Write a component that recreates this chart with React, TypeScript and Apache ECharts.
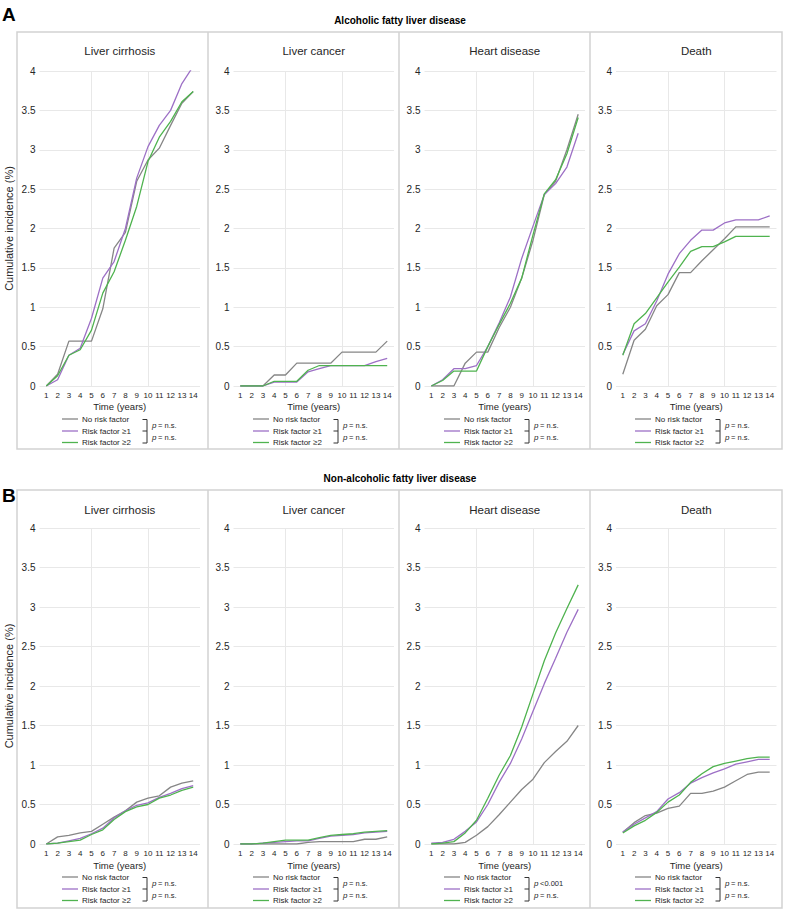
import React, { useEffect, useRef } from "react";
import * as echarts from "echarts";

// ---------- DATA ----------
const years = [1, 2, 3, 4, 5, 6, 7, 8, 9, 10, 11, 12, 13, 14];
const seriesNames = ["No risk factor", "Risk factor ≥1", "Risk factor ≥2"];
const panelTitles = ["Liver cirrhosis", "Liver cancer", "Heart disease", "Death"];
const blockTitles = ["Alcoholic fatty liver disease", "Non-alcoholic fatty liver disease"];
const blockLetters = ["A", "B"];
const yAxisTitle = "Cumulative incidence (%)";
const xAxisTitle = "Time (years)";

// A: Alcoholic fatty liver disease
const A_cirrhosis_none = [0, 0.15, 0.57, 0.57, 0.57, 0.98, 1.75, 1.95, 2.6, 2.87, 3.02, 3.31, 3.59, 3.74];
const A_cirrhosis_rf1 = [0, 0.08, 0.39, 0.48, 0.86, 1.37, 1.58, 2.0, 2.64, 3.04, 3.31, 3.5, 3.84, 4.06];
const A_cirrhosis_rf2 = [0, 0.13, 0.39, 0.46, 0.71, 1.18, 1.45, 1.85, 2.28, 2.85, 3.16, 3.36, 3.61, 3.74];

const A_cancer_none = [0, 0, 0, 0.14, 0.14, 0.29, 0.29, 0.29, 0.29, 0.43, 0.43, 0.43, 0.43, 0.57];
const A_cancer_rf1 = [0, 0, 0, 0.05, 0.05, 0.05, 0.18, 0.22, 0.26, 0.26, 0.26, 0.26, 0.31, 0.35];
const A_cancer_rf2 = [0, 0, 0, 0.06, 0.06, 0.06, 0.2, 0.26, 0.26, 0.26, 0.26, 0.26, 0.26, 0.26];

const A_heart_none = [0, 0, 0, 0.29, 0.43, 0.43, 0.74, 1.0, 1.37, 1.85, 2.43, 2.6, 3.0, 3.45];
const A_heart_rf1 = [0, 0.08, 0.22, 0.22, 0.26, 0.5, 0.8, 1.13, 1.62, 2.03, 2.43, 2.57, 2.78, 3.21];
const A_heart_rf2 = [0, 0.07, 0.19, 0.19, 0.19, 0.5, 0.78, 1.05, 1.37, 1.92, 2.44, 2.62, 2.95, 3.41];

const A_death_none = [0.15, 0.58, 0.72, 1.02, 1.16, 1.44, 1.44, 1.59, 1.73, 1.87, 2.02, 2.02, 2.02, 2.02];
const A_death_rf1 = [0.4, 0.7, 0.79, 1.08, 1.42, 1.68, 1.85, 1.98, 1.98, 2.07, 2.11, 2.11, 2.11, 2.16];
const A_death_rf2 = [0.39, 0.79, 0.92, 1.12, 1.32, 1.51, 1.71, 1.77, 1.77, 1.83, 1.9, 1.9, 1.9, 1.9];

// B: Non-alcoholic fatty liver disease
const B_cirrhosis_none = [0, 0.09, 0.11, 0.14, 0.16, 0.25, 0.34, 0.42, 0.53, 0.58, 0.61, 0.72, 0.77, 0.8];
const B_cirrhosis_rf1 = [0, 0.01, 0.04, 0.07, 0.13, 0.2, 0.33, 0.42, 0.49, 0.52, 0.59, 0.64, 0.7, 0.74];
const B_cirrhosis_rf2 = [0, 0.01, 0.03, 0.05, 0.12, 0.18, 0.31, 0.41, 0.47, 0.5, 0.58, 0.62, 0.68, 0.72];

const B_cancer_none = [0, 0, 0, 0, 0, 0, 0.02, 0.03, 0.03, 0.03, 0.03, 0.06, 0.06, 0.09];
const B_cancer_rf1 = [0, 0, 0.01, 0.02, 0.03, 0.04, 0.04, 0.07, 0.1, 0.11, 0.12, 0.14, 0.15, 0.16];
const B_cancer_rf2 = [0, 0, 0.01, 0.03, 0.05, 0.05, 0.05, 0.08, 0.11, 0.12, 0.13, 0.15, 0.16, 0.17];

const B_heart_none = [0, 0, 0, 0.02, 0.11, 0.22, 0.37, 0.53, 0.69, 0.82, 1.03, 1.17, 1.3, 1.5];
const B_heart_rf1 = [0.01, 0.02, 0.06, 0.16, 0.28, 0.5, 0.78, 1.02, 1.33, 1.68, 2.03, 2.35, 2.68, 2.97];
const B_heart_rf2 = [0, 0.01, 0.03, 0.14, 0.3, 0.58, 0.87, 1.12, 1.48, 1.9, 2.32, 2.67, 2.98, 3.28];

const B_death_none = [0.15, 0.27, 0.36, 0.39, 0.45, 0.48, 0.64, 0.64, 0.67, 0.72, 0.8, 0.88, 0.91, 0.91];
const B_death_rf1 = [0.15, 0.25, 0.33, 0.41, 0.57, 0.65, 0.77, 0.84, 0.9, 0.95, 1.01, 1.04, 1.07, 1.07];
const B_death_rf2 = [0.14, 0.23, 0.3, 0.4, 0.53, 0.62, 0.78, 0.89, 0.98, 1.02, 1.05, 1.08, 1.1, 1.1];

// p-value labels (first bracket: none vs ≥1, second: ≥1 vs ≥2)
const pA = [["= n.s.", "= n.s."], ["= n.s.", "= n.s."], ["= n.s.", "= n.s."], ["= n.s.", "= n.s."]];
const pB = [["= n.s.", "= n.s."], ["= n.s.", "= n.s."], ["<0.001", "= n.s."], ["= n.s.", "= n.s."]];

const yTicksMin = 0;
const yTicksMax = 4;
const yTicksStep = 0.5;
const vGridYears = [5, 10];

// ---------- STYLE / LAYOUT ----------
const COLORS = ["#868686", "#9d70c6", "#4fb34f"];
const FONT = '"Liberation Sans", Arial, Helvetica, sans-serif';
const TXT = "#262626";
const GRIDC = "#e8e8e8";
const BORDER = "#d2d2d2";

const panelLefts = [17, 208, 399, 590];
const boxRight = 782;
const x1pos = [46.3, 240.3, 431.3, 622.8];
const S = 11.3;

const blockLayouts = [
  { letterY: 14, titleY: 20, boxTop: 32, boxBottom: 449, panelTitleY: 51, gridTop: 71, gridBottom: 386, nameY: 406, legendY: [419, 431, 442.5] },
  { letterY: 495, titleY: 478, boxTop: 490, boxBottom: 908, panelTitleY: 510, gridTop: 528, gridBottom: 844, nameY: 865.5, legendY: [877, 889, 900.5] },
];

const blockData = [
  [
    [A_cirrhosis_none, A_cirrhosis_rf1, A_cirrhosis_rf2],
    [A_cancer_none, A_cancer_rf1, A_cancer_rf2],
    [A_heart_none, A_heart_rf1, A_heart_rf2],
    [A_death_none, A_death_rf1, A_death_rf2],
  ],
  [
    [B_cirrhosis_none, B_cirrhosis_rf1, B_cirrhosis_rf2],
    [B_cancer_none, B_cancer_rf1, B_cancer_rf2],
    [B_heart_none, B_heart_rf1, B_heart_rf2],
    [B_death_none, B_death_rf1, B_death_rf2],
  ],
];
const blockP = [pA, pB];

function txt(text: string, x: number, y: number, o: any = {}) {
  const align = o.align || "left";
  const va = o.va || "middle";
  return {
    type: "text",
    x,
    y,
    rotation: o.rotation || 0,
    silent: true,
    z: 10,
    style: {
      text,
      fill: o.fill || TXT,
      fontSize: o.fontSize || 8,
      fontFamily: FONT,
      fontWeight: o.fontWeight || "normal",
      fontStyle: o.fontStyle || "normal",
      textAlign: align,
      textVerticalAlign: va,
      align,
      verticalAlign: va,
    },
  };
}

function buildOption() {
  const grids: any[] = [];
  const xAxes: any[] = [];
  const yAxes: any[] = [];
  const series: any[] = [];
  const graphics: any[] = [];

  blockLayouts.forEach((L, b) => {
    graphics.push(txt(blockLetters[b], 2, L.letterY, { fontSize: 19, fontWeight: "bold", fill: "#000" }));
    graphics.push(txt(blockTitles[b], 400, L.titleY, { fontSize: 10, fontWeight: "bold", fill: "#000", align: "center" }));
    graphics.push({
      type: "rect",
      silent: true,
      z: 9,
      shape: { x: panelLefts[0], y: L.boxTop, width: boxRight - panelLefts[0], height: L.boxBottom - L.boxTop },
      style: { fill: "none", stroke: BORDER, lineWidth: 1.5 },
    });
    for (let k = 1; k < 4; k++) {
      graphics.push({
        type: "line",
        silent: true,
        z: 9,
        shape: { x1: panelLefts[k], y1: L.boxTop, x2: panelLefts[k], y2: L.boxBottom },
        style: { stroke: BORDER, lineWidth: 1.5 },
      });
    }
    graphics.push(
      txt(yAxisTitle, 9, (L.gridTop + L.gridBottom) / 2, { fontSize: 11, align: "center", rotation: Math.PI / 2 })
    );

    for (let k = 0; k < 4; k++) {
      const gi = b * 4 + k;
      const left = x1pos[k] - 0.6 * S;
      const width = 14.2 * S;
      grids.push({ left, top: L.gridTop, width, height: L.gridBottom - L.gridTop, containLabel: false });
      xAxes.push({
        type: "value",
        gridIndex: gi,
        min: 0.4,
        max: 14.6,
        axisLine: { show: false },
        axisTick: { show: false },
        splitLine: { show: false },
        axisLabel: { customValues: years, fontSize: 8, color: TXT, fontFamily: FONT, margin: 5 },
      });
      yAxes.push({
        type: "value",
        gridIndex: gi,
        min: yTicksMin,
        max: yTicksMax,
        interval: yTicksStep,
        axisLine: { show: false },
        axisTick: { show: false },
        splitLine: { show: true, lineStyle: { color: GRIDC, width: 1 } },
        axisLabel: { fontSize: 10, color: TXT, fontFamily: FONT, margin: 4 },
      });
      const dat = blockData[b][k];
      dat.forEach((vals, si) => {
        const s: any = {
          type: "line",
          name: seriesNames[si],
          xAxisIndex: gi,
          yAxisIndex: gi,
          data: years.map((x, i) => [x, vals[i]]),
          symbol: "none",
          showSymbol: false,
          lineStyle: { color: COLORS[si], width: 1.3 },
          itemStyle: { color: COLORS[si] },
          z: 3,
          silent: true,
        };
        if (si === 0) {
          s.markLine = {
            silent: true,
            z: 1,
            symbol: ["none", "none"],
            label: { show: false },
            lineStyle: { color: GRIDC, type: "solid", width: 1 },
            data: vGridYears.map((v) => ({ xAxis: v })),
          };
        }
        series.push(s);
      });

      const cx = left + width / 2;
      graphics.push(txt(panelTitles[k], cx, L.panelTitleY, { fontSize: 11.5, align: "center" }));
      graphics.push(txt(xAxisTitle, cx, L.nameY, { fontSize: 9.5, align: "center" }));

      const pl = panelLefts[k];
      L.legendY.forEach((ly, si) => {
        graphics.push({
          type: "line",
          silent: true,
          z: 10,
          shape: { x1: pl + 45, y1: ly, x2: pl + 61, y2: ly },
          style: { stroke: COLORS[si], lineWidth: 1.3 },
        });
        graphics.push(txt(seriesNames[si], pl + 65, ly, { fontSize: 8 }));
      });
      const b0 = pl + 125.5;
      const b1 = pl + 130;
      const [y0, y1, y2] = L.legendY;
      graphics.push({
        type: "polyline",
        silent: true,
        z: 10,
        shape: { points: [[b0, y0 + 0.5], [b1, y0 + 0.5], [b1, y2 + 0.5], [b0, y2 + 0.5]] },
        style: { stroke: "#333", lineWidth: 1, fill: "none" },
      });
      graphics.push({
        type: "line",
        silent: true,
        z: 10,
        shape: { x1: b0, y1: y1, x2: b1, y2: y1 },
        style: { stroke: "#333", lineWidth: 1 },
      });
      const pv = blockP[b][k];
      const py = [(y0 + y1) / 2 + 0.5, (y1 + y2) / 2 + 0.5];
      py.forEach((yy, j) => {
        graphics.push(txt("p", pl + 135, yy, { fontSize: 8, fontStyle: "italic" }));
        graphics.push(txt(pv[j], pl + 141, yy, { fontSize: 7.5 }));
      });
    }
  });

  return {
    animation: false,
    backgroundColor: "#ffffff",
    textStyle: { fontFamily: FONT },
    grid: grids,
    xAxis: xAxes,
    yAxis: yAxes,
    series,
    graphic: { elements: graphics },
  };
}

export default function App() {
  const ref = useRef<HTMLDivElement>(null);
  useEffect(() => {
    document.body.style.margin = "0";
    const chart = echarts.init(ref.current!, null, { renderer: "svg" });
    chart.setOption(buildOption() as any);
    return () => chart.dispose();
  }, []);
  return <div ref={ref} style={{ width: 787, height: 913 }} />;
}
